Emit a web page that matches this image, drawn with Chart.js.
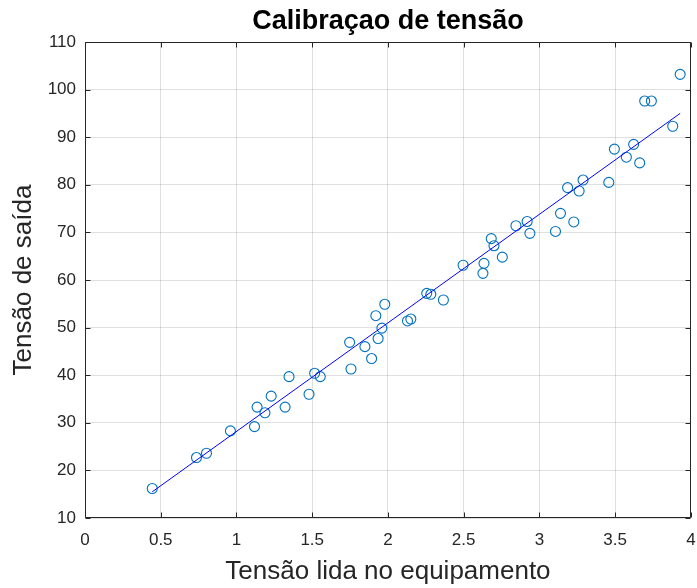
<!DOCTYPE html>
<html>
<head>
<meta charset="utf-8">
<script src="https://cdn.jsdelivr.net/npm/chart.js@4.4.0/dist/chart.umd.min.js"></script>
<style>
  html, body { margin: 0; padding: 0; background: #ffffff; }
  #wrap { width: 697px; height: 588px; position: relative; }
</style>
</head>
<body>
<div id="wrap"><canvas id="c"></canvas></div>
<script>
const titleText = "Calibraçao de tensão";
const xLabel = "Tensão lida no equipamento";
const yLabel = "Tensão de saída";

const measuredX = [0.444, 0.736, 0.802, 0.960, 1.119, 1.136, 1.188, 1.229, 1.321, 1.347,
  1.479, 1.516, 1.553, 1.747, 1.756, 1.848, 1.892, 1.920, 1.935, 1.960,
  1.979, 2.129, 2.151, 2.256, 2.283, 2.366, 2.496, 2.627, 2.634, 2.682,
  2.700, 2.755, 2.845, 2.919, 2.937, 3.106, 3.139, 3.186, 3.227, 3.262,
  3.288, 3.458, 3.495, 3.574, 3.622, 3.662, 3.695, 3.739, 3.880, 3.929];
const outputY = [16.2, 22.7, 23.6, 28.3, 29.2, 33.3, 32.1, 35.6, 33.3, 39.7,
  36.0, 40.4, 39.7, 46.9, 41.3, 46.0, 43.5, 52.5, 47.7, 49.9,
  54.9, 51.4, 51.8, 57.2, 57.0, 55.8, 63.1, 61.4, 63.5, 68.7,
  67.2, 64.8, 71.4, 72.3, 69.8, 70.2, 74.0, 79.4, 72.2, 78.7,
  81.0, 80.5, 87.5, 85.8, 88.5, 84.6, 97.6, 97.6, 92.3, 103.2];
const fitX = [0.444, 3.929];
const fitY = [15.5, 95.0];

const xMin = 0, xMax = 4, xStep = 0.5;
const yMin = 10, yMax = 110, yStep = 10;

const FONT = "'Liberation Sans', Arial, Helvetica, sans-serif";
const TXT = '#262626';

const boxPlugin = {
  id: 'boxPlugin',
  afterDraw(chart) {
    const ctx = chart.ctx;
    const a = chart.chartArea;
    const xs = chart.scales.x, ys = chart.scales.y;
    ctx.save();
    ctx.strokeStyle = TXT;
    ctx.lineWidth = 1;
    const L = Math.round(a.left) + 0.5, R = Math.round(a.right) - 0.5;
    const T = Math.round(a.top) + 0.5, B = Math.round(a.bottom) - 0.5;
    ctx.beginPath();
    ctx.rect(L, T, R - L, B - T);
    ctx.stroke();
    const tl = 5;
    ctx.beginPath();
    xs.ticks.forEach(t => {
      const px = Math.round(xs.getPixelForValue(t.value)) + 0.5;
      ctx.moveTo(px, B); ctx.lineTo(px, B - tl);
      ctx.moveTo(px, T); ctx.lineTo(px, T + tl);
    });
    ys.ticks.forEach(t => {
      const py = Math.round(ys.getPixelForValue(t.value)) + 0.5;
      ctx.moveTo(L, py); ctx.lineTo(L + tl, py);
      ctx.moveTo(R, py); ctx.lineTo(R - tl, py);
    });
    ctx.stroke();
    ctx.restore();
  }
};

const points = measuredX.map((x, i) => ({ x: x, y: outputY[i] }));
const fitPoints = fitX.map((x, i) => ({ x: x, y: fitY[i] }));

new Chart(document.getElementById('c'), {
  type: 'scatter',
  data: {
    datasets: [
      {
        label: 'medidas',
        data: points,
        pointStyle: 'circle',
        pointRadius: 5,
        pointHoverRadius: 5,
        pointBorderWidth: 1.1,
        borderColor: '#0072BD',
        backgroundColor: 'rgba(0,0,0,0)',
        showLine: false,
        order: 2
      },
      {
        label: 'ajuste',
        data: fitPoints,
        showLine: true,
        borderColor: '#0000FF',
        borderWidth: 1,
        pointRadius: 0,
        fill: false,
        order: 1
      }
    ]
  },
  options: {
    responsive: true,
    maintainAspectRatio: false,
    animation: false,
    events: [],
    layout: { padding: { left: 0, right: 5, top: 0, bottom: 0 } },
    plugins: {
      legend: { display: false },
      tooltip: { enabled: false },
      title: {
        display: true,
        fullSize: false,
        text: titleText,
        color: '#000000',
        font: { family: FONT, size: 27, weight: 'bold', lineHeight: 1.2 },
        padding: { top: 5.5, bottom: 4.1 }
      }
    },
    scales: {
      x: {
        type: 'linear',
        min: xMin, max: xMax,
        border: { display: false },
        grid: { color: 'rgba(38,38,38,0.15)', lineWidth: 1, drawTicks: false },
        ticks: {
          stepSize: xStep,
          color: TXT,
          font: { family: FONT, size: 17 },
          padding: 12,
          maxRotation: 0,
          autoSkip: false,
          callback: (v) => String(Number(v))
        },
        title: {
          display: true,
          text: xLabel,
          color: TXT,
          font: { family: FONT, size: 26, lineHeight: 1.2 },
          padding: { top: 0, bottom: 1 }
        },
        afterFit(scale) { scale.height = 70; scale.paddingLeft = 0; scale.paddingRight = 0; }
      },
      y: {
        type: 'linear',
        min: yMin, max: yMax,
        border: { display: false },
        grid: { color: 'rgba(38,38,38,0.15)', lineWidth: 1, drawTicks: false },
        ticks: {
          stepSize: yStep,
          color: TXT,
          font: { family: FONT, size: 17 },
          padding: 9,
          autoSkip: false
        },
        title: {
          display: true,
          text: yLabel,
          color: TXT,
          font: { family: FONT, size: 26, lineHeight: 1.2 },
          padding: { top: 8.6, bottom: 0 }
        },
        afterFit(scale) { scale.width = 85; scale.paddingTop = 0; scale.paddingBottom = 0; }
      }
    }
  },
  plugins: [boxPlugin]
});
</script>
</body>
</html>
